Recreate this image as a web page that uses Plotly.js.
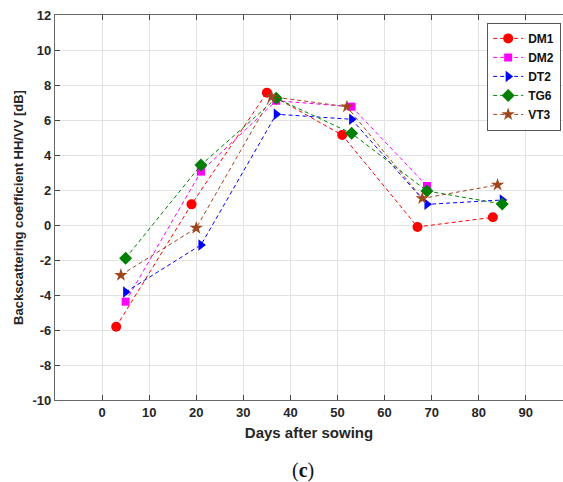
<!DOCTYPE html>
<html>
<head>
<meta charset="utf-8">
<script src="https://cdn.plot.ly/plotly-3.0.1.min.js"></script>
<style>html,body{margin:0;padding:0;background:#fff;}#chart{width:563px;height:482px;}</style>
</head>
<body>
<div id="chart"></div>
<script>
// Days after sowing per series
const xDM1 = [3, 19, 35, 51, 67, 83];
const yDM1 = [-5.81, 1.18, 7.56, 5.14, -0.11, 0.44];
const xDM2 = [5, 21, 37, 53, 69];
const yDM2 = [-4.38, 3.05, 7.1, 6.76, 2.23];
const xDT2 = [5, 21, 37, 53, 69, 85];
const yDT2 = [-3.83, -1.14, 6.33, 6.04, 1.18, 1.43];
const xTG6 = [5, 21, 37, 53, 69, 85];
const yTG6 = [-1.9, 3.43, 7.24, 5.24, 1.94, 1.2];
const xVT3 = [4, 20, 36, 52, 68, 84];
const yVT3 = [-2.86, -0.17, 7.33, 6.76, 1.52, 2.29];
const names = ['DM1', 'DM2', 'DT2', 'TG6', 'VT3'];
const xTicks = [0, 10, 20, 30, 40, 50, 60, 70, 80, 90];
const yTicks = [-10, -8, -6, -4, -2, 0, 2, 4, 6, 8, 10, 12];

const colors = ['#ff0000', '#ff00ff', '#0000ff', '#007f00', '#a0461e'];
const symbols = ['circle', 'square', 'triangle-right', 'diamond', 'star'];
const sizes = [10, 8, 10, 10, 10];
const xs = [xDM1, xDM2, xDT2, xTG6, xVT3];
const ys = [yDM1, yDM2, yDT2, yTG6, yVT3];

const data = names.map((n, i) => ({
  type: 'scatter', mode: 'lines+markers', name: n,
  x: xs[i], y: ys[i],
  line: {color: colors[i], width: 1, dash: '4px,3px'},
  marker: {color: colors[i], symbol: symbols[i], size: sizes[i], line: {width: 0}}
}));

const tickFont = {family: 'Liberation Sans, Arial, sans-serif', size: 13, color: '#262626', weight: 'bold'};

const layout = {
  width: 563, height: 482,
  margin: {l: 55, r: 0, t: 15, b: 82},
  paper_bgcolor: '#fff', plot_bgcolor: '#fff',
  showlegend: true,
  legend: {
    x: 0.996, xanchor: 'right', y: 0.98, yanchor: 'top',
    bgcolor: '#fff', bordercolor: '#555', borderwidth: 1.2,
    font: {family: 'Liberation Sans, Arial, sans-serif', size: 12, color: '#111', weight: 'bold'},
    itemwidth: 30, tracegroupgap: 0
  },
  xaxis: {
    range: [-10, 97.9], tickvals: xTicks, ticktext: xTicks.map(String),
    ticks: 'inside', ticklen: 5, tickcolor: '#444', tickwidth: 1,
    showline: true, linecolor: '#666', linewidth: 1.2, mirror: 'allticks',
    showgrid: true, gridcolor: '#e3e3e3', gridwidth: 1, zeroline: false,
    tickfont: tickFont,
    title: {text: 'Days after sowing', standoff: 8, font: {family: 'Liberation Sans, Arial, sans-serif', size: 15, color: '#262626', weight: 'bold'}},
    automargin: false
  },
  yaxis: {
    range: [-10, 12], tickvals: yTicks, ticktext: yTicks.map(String),
    ticks: 'inside', ticklen: 5, tickcolor: '#444', tickwidth: 1,
    showline: true, linecolor: '#666', linewidth: 1.2, mirror: false,
    showgrid: true, gridcolor: '#e3e3e3', gridwidth: 1, zeroline: false,
    tickfont: tickFont,
    title: {text: 'Backscattering coefficient HH/VV [dB]', standoff: 5, font: {family: 'Liberation Sans, Arial, sans-serif', size: 13, color: '#262626', weight: 'bold'}},
    automargin: false
  },
  annotations: [{
    xref: 'paper', yref: 'paper', x: 0.488, y: -0.182, xanchor: 'center', yanchor: 'middle',
    text: '(<b>c</b>)', showarrow: false,
    font: {family: 'Liberation Serif, Times New Roman, serif', size: 20, color: '#111'}
  }]
};

Plotly.newPlot('chart', data, layout, {displayModeBar: false, staticPlot: true});
</script>
</body>
</html>
